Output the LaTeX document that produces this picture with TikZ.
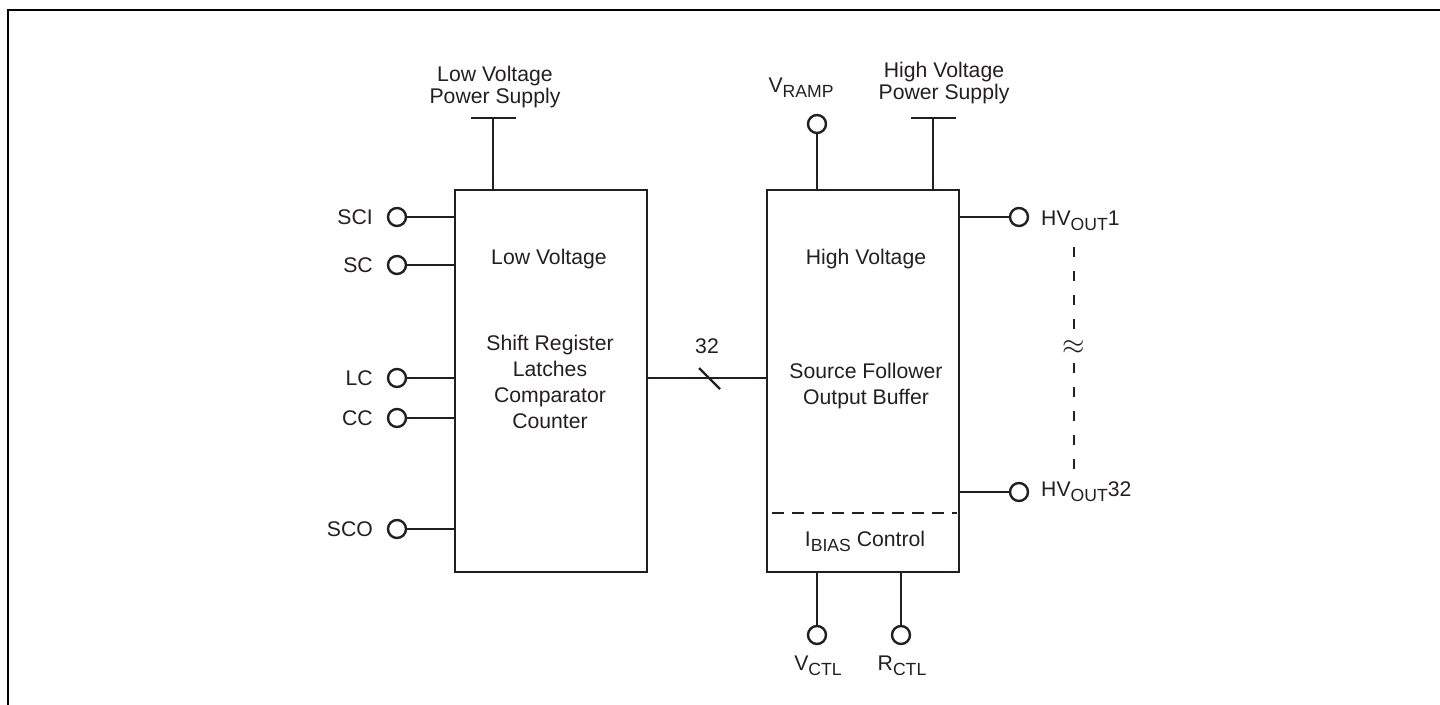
\documentclass[tikz,border=0pt]{standalone}
\usepackage{fontspec}
\setmainfont{Liberation Sans}
\definecolor{ink}{HTML}{231F20}
\newcommand\lowsub[1]{\raisebox{-2.5pt}{\fontsize{8.8}{9}\selectfont #1}}
\begin{document}
\begin{tikzpicture}[x=0.5pt,y=-0.5pt,line width=1.2pt,ink,
  every node/.style={inner sep=0pt,text=ink,font=\fontsize{10.6}{13}\selectfont},
  block/.style={draw,line width=1.2pt,minimum width=96pt,minimum height=191pt},
  pad/.style={draw,circle,minimum size=9pt,line width=1.2pt},
  lbl/.style={anchor=base},
  lbll/.style={anchor=east},
  frameline/.style={black,line width=1pt},
  divider/.style={dash pattern=on 6pt off 4pt},
  dots/.style={dash pattern=on 5pt off 7pt}]
\useasboundingbox (0,0) rectangle (1440,705);
% frame
\coordinate (f1) at (8,705);
\coordinate (f2) at (8,10);
\coordinate (f3) at (1440,10);
\draw[frameline] (f1) -- (f2) -- (f3);

% blocks
\node[block] (lv) at (551,381) {};
\node[block] (hv) at (863,381) {};

% LV texts
\node[lbl] (lvt1) at (549,265) {Low Voltage};
\node[lbl] (lvt2) at (550,351) {Shift Register};
\node[lbl] (lvt3) at (550,377) {Latches};
\node[lbl] (lvt4) at (550,403) {Comparator};
\node[lbl] (lvt5) at (550,429) {Counter};

% HV texts
\node[lbl] (hvt1) at (866,265) {High Voltage};
\node[lbl] (hvt2) at (866,379) {Source Follower};
\node[lbl] (hvt3) at (866,405) {Output Buffer};
\coordinate (dvl) at (772,513);
\coordinate (dvr) at (957,513);
\draw[divider] (dvl) -- (dvr);
\node[lbl] (ibias) at (865,546) {I\lowsub{BIAS} Control};

% left pads
\node[pad] (pSCI) at (397,217) {};
\node[pad] (pSC)  at (397,265) {};
\node[pad] (pLC)  at (397,378) {};
\node[pad] (pCC)  at (397,418) {};
\node[pad] (pSCO) at (397,529) {};
\node[lbll] (tSCI) at (374,217) {SCI};
\node[lbll] (tSC)  at (374,265) {SC};
\node[lbll] (tLC)  at (374,378) {LC};
\node[lbll] (tCC)  at (374,418) {CC};
\node[lbll] (tSCO) at (374,529) {SCO};
\foreach \p in {pSCI,pSC,pLC,pCC,pSCO}
  \draw (\p.east) -- (\p -| lv.west);

% LV power supply
\coordinate (lvps) at (493,118);
\coordinate (lvpsL) at (471,118);
\coordinate (lvpsR) at (516,118);
\draw (lvpsL) -- (lvpsR);
\draw (lvps) -- (lvps |- lv.north);
\node[lbl] (lvpst1) at (495,82) {Low Voltage};
\node[lbl] (lvpst2) at (495,104) {Power Supply};

% HV power supply
\coordinate (hvps) at (933,118);
\coordinate (hvpsL) at (911,118);
\coordinate (hvpsR) at (956,118);
\draw (hvpsL) -- (hvpsR);
\draw (hvps) -- (hvps |- hv.north);
\node[lbl] (hvpst1) at (944,78) {High Voltage};
\node[lbl] (hvpst2) at (944,100) {Power Supply};

% VRAMP
\node[pad] (vramp) at (817,124) {};
\draw (vramp.south) -- (vramp |- hv.north);
\node[lbl] (tvramp) at (801,93) {V\lowsub{RAMP}};

% bus
\draw (lv.east |- pLC) -- (hv.west |- pLC);
\coordinate (s1) at (699,368);
\coordinate (s2) at (720,389);
\draw (s1) -- (s2);
\node[lbl] (t32) at (707,354) {32};

% HV outputs
\node[pad] (hvo1) at (1019,217) {};
\node[pad] (hvo32) at (1019,492) {};
\draw (hv.east |- hvo1) -- (hvo1.west);
\draw (hv.east |- hvo32) -- (hvo32.west);
\node[anchor=base west] (thvo1) at (1040,226) {HV\lowsub{OUT}1};
\node[anchor=base west] (thvo32) at (1040,496) {HV\lowsub{OUT}32};
\coordinate (d1) at (1074,247);
\coordinate (d2) at (1074,333);
\coordinate (d3) at (1074,363);
\coordinate (d4) at (1074,473);
\draw[dots] (d1) -- (d2);
\draw[dots] (d3) -- (d4);
\node[font=\fontsize{14}{14}\selectfont] (approx) at (1074,348) {$\approx$};

% bottom pads
\node[pad] (vctl) at (817,635) {};
\node[pad] (rctl) at (901,635) {};
\draw (vctl.north) -- (vctl |- hv.south);
\draw (rctl.north) -- (rctl |- hv.south);
\node[lbl] (tvctl) at (818,670) {V\lowsub{CTL}};
\node[lbl] (trctl) at (902,670) {R\lowsub{CTL}};
\end{tikzpicture}
\end{document}
